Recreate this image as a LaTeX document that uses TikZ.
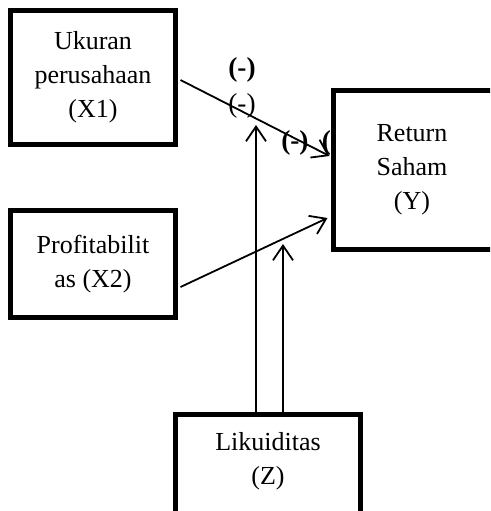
\documentclass[tikz,border=0pt]{standalone}
\usepackage{fontspec}
\setmainfont{Liberation Serif}
\usetikzlibrary{arrows.meta,calc}
\begin{document}
\begin{tikzpicture}[x=0.75pt,y=-0.75pt,
  box/.style={draw, line width=3.75pt, rectangle, fill=white, inner sep=0pt, align=center, font=\fontsize{19.5}{25.5}\selectfont},
  txt/.style={inner sep=0pt, align=center, font=\fontsize{19.5}{25.5}\selectfont},
  conn/.style={line width=1.35pt, -{Straight Barb[length=11pt,width=15pt,line width=1.35pt]}},
  lab/.style={inner sep=0pt, font=\fontsize{20.5}{24}\selectfont}]
\useasboundingbox (0,0) rectangle (490,511);
\clip (0,0) rectangle (490,511);
% labels
\node[lab] (l1) at (242,70) {\textbf{(-)}};
\node[lab] (l2) at (242,106) {(-)};
\node[lab, anchor=west] (l3) at (281,143) {\textbf{(-)\hspace{10pt}(-)}};
% boxes
\node[box, minimum width=123.75pt, minimum height=100.5pt] (X1) at (93,77.5) {Ukuran\\perusahaan\\(X1)};
\node[box, minimum width=123.75pt, minimum height=80.25pt] (X2) at (93,264) {Profitabilit\\as (X2)\hspace{12.75pt}};
\node[box, minimum width=124.875pt, minimum height=119.25pt] (Y) at (416.75,170) {};
\node[txt] (Yt) at (412,170) {Return\\Saham\\(Y)};
\node[box, minimum width=138.75pt, minimum height=86.25pt] (Z) at (268,472) {};
\node[txt] (Zt) at (268,461) {Likuiditas\\(Z)};
% connectors
\coordinate (tA) at (256,125);
\coordinate (tB) at (283,244);
\draw[conn] ($(X1.east)+(2.5,2.5)$) -- ($(Y.west)+(-1.5,-14)$);
\draw[conn] ($(X2.east)+(2.5,23)$) -- ($(Y.west)+(-3.5,48)$);
\draw[conn] ($(Z.north)+(-12,0)$) -- (tA);
\draw[conn] ($(Z.north)+(15,3)$) -- (tB);
\end{tikzpicture}
\end{document}
